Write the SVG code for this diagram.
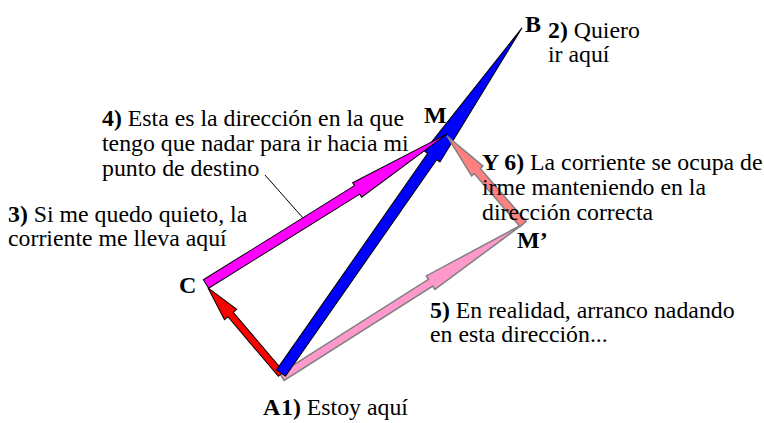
<svg xmlns="http://www.w3.org/2000/svg" width="764" height="423" viewBox="0 0 764 423" font-family="'Liberation Serif', 'Times New Roman', serif">
<style>
  text { font-family: 'Liberation Serif', 'Times New Roman', serif; font-size: 23.8px; fill: #000; }
  .b { font-weight: bold; }
  .lbl { font-weight: bold; font-size: 24px; }
  .dark { stroke: #000; stroke-width: 1; stroke-linejoin: miter; }
  .grey { stroke: #808080; stroke-width: 1.5; stroke-linejoin: miter; }
</style>
<rect width="764" height="423" fill="#fff"/>
<g id="connectors">
  <polygon id="pink" class="grey" fill="#FF99CC" transform="translate(282,377) rotate(-32.4)" points="0,-4 176,-4 176,-8 285.5,0 176,8 176,4 0,4"/>
  <polygon id="red" class="dark" fill="#FF0000" transform="translate(281,374) rotate(-130.3)" points="0,-3.5 78,-3.5 78,-8 112.8,0 78,8 78,3.5 0,3.5"/>
  <polygon id="blue" class="dark" fill="#0000FF" transform="translate(281,373) rotate(-55.07)" points="0,-5.5 264,-5.5 264,-9.5 421,0 264,9.5 264,5.5 0,5.5"/>
  <polygon id="magenta" class="dark" fill="#FF00FF" transform="translate(206,284) rotate(-31.9)" points="0,-5 178,-5 178,-8.5 284,0 178,8.5 178,5 0,5"/>
  <polygon id="salmon" class="grey" fill="#FF8080" transform="translate(523,224) rotate(-130.8)" points="0,-4 70,-4 70,-7.5 116.3,0 70,7.5 70,4 0,4"/>
  <line x1="265" y1="175" x2="303" y2="218" stroke="#000" stroke-width="1"/>
</g>
<g id="node-A">
  <text x="263" y="415" class="lbl">A</text>
  <text x="281" y="415"><tspan class="b">1)</tspan> Estoy aquí</text>
</g>
<g id="node-B">
  <text x="525" y="32" class="lbl">B</text>
  <text x="548" y="38"><tspan class="b">2)</tspan> Quiero</text>
  <text x="548" y="62">ir aquí</text>
</g>
<g id="node-C">
  <text x="179" y="293" class="lbl">C</text>
  <text x="8" y="222"><tspan class="b">3)</tspan> Si me quedo quieto, la</text>
  <text x="8" y="246">corriente me lleva aquí</text>
</g>
<g id="node-M">
  <text x="424" y="123" class="lbl">M</text>
  <text x="102" y="126"><tspan class="b">4)</tspan> Esta es la dirección en la que</text>
  <text x="102" y="151">tengo que nadar para ir hacia mi</text>
  <text x="102" y="176">punto de destino</text>
</g>
<g id="node-Mp">
  <text x="517" y="248" class="lbl">M’</text>
  <text x="482" y="170"><tspan class="b">Y 6)</tspan> La corriente se ocupa de</text>
  <text x="482" y="195">irme manteniendo en la</text>
  <text x="482" y="220">dirección correcta</text>
  <text x="430" y="318"><tspan class="b">5)</tspan> En realidad, arranco nadando</text>
  <text x="430" y="342">en esta dirección...</text>
</g>
</svg>
